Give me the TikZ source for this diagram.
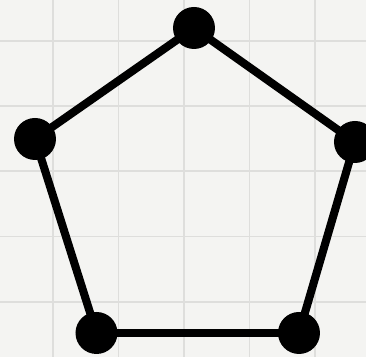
\documentclass[tikz,border=0pt]{standalone}
\usepackage{tikz}
\definecolor{paper}{HTML}{F4F4F2}
\definecolor{gridline}{HTML}{DEDEDC}

\begin{document}
\begin{tikzpicture}[
    vert/.style={circle, fill=black, minimum size=8.4mm, inner sep=0pt},
    edge/.style={black, line width=4.6pt},
    sheet/.style={gridline, line width=0.8pt},
]
% paper with a square grid
\useasboundingbox (0,0) rectangle (7.32,7.14);
\clip (0,0) rectangle (7.32,7.14);
\fill[paper] (0,0) rectangle (7.32,7.14);
\foreach \x in {1.06,2.37,3.68,4.99,6.30} {
    \draw[sheet] (\x,0) -- (\x,7.14);
}
\foreach \y in {1.10,2.41,3.72,5.02,6.32} {
    \draw[sheet] (0,\y) -- (7.32,\y);
}

% ---- the five corners ----
\node[vert] (top)   at (3.88,6.58) {};
\node[vert] (left)  at (0.70,4.36) {};
\node[vert] (right) at (7.10,4.30) {};
\node[vert] (botL)  at (1.93,0.48) {};
\node[vert] (botR)  at (5.98,0.48) {};

% ---- the sides ----
\draw[edge] (top.center) -- (right.center);
\draw[edge] (right.center) -- (botR.center);
\draw[edge] (botR.center) -- (botL.center);
\draw[edge] (botL.center) -- (left.center);
\draw[edge] (left.center) -- (top.center);
\end{tikzpicture}
\end{document}
